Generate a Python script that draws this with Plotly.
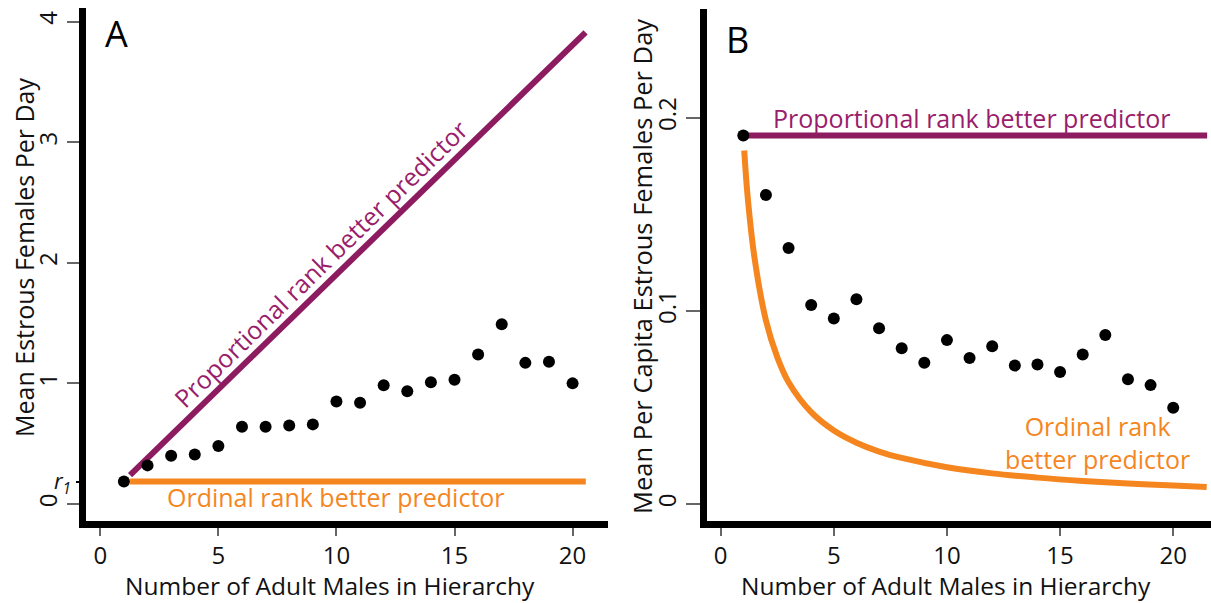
import plotly.graph_objects as go

# ---------------- data ----------------
n_males = list(range(1, 21))
mean_estrous = [0.186, 0.32, 0.40, 0.41, 0.48, 0.64, 0.64, 0.65, 0.66, 0.85,
                0.84, 0.985, 0.935, 1.01, 1.03, 1.24, 1.49, 1.17, 1.18, 1.00]
per_capita = [0.1907, 0.160, 0.1325, 0.103, 0.096, 0.106, 0.091, 0.0806, 0.0731, 0.0848,
              0.0756, 0.0816, 0.0716, 0.0722, 0.0683, 0.0773, 0.0874, 0.0645, 0.0615, 0.0498]

# model lines (panel A)
propA_x = [1.26, 20.55]
propA_y = [0.24, 3.91]
ordA_x = [1.26, 20.56]
ordA_y = [0.186, 0.186]

# model lines (panel B)
propB_x = [1.2, 21.5]
propB_y = [0.1907, 0.1907]
ordB_x = [1.04, 1.2, 1.5, 2, 2.5, 3, 4, 5, 6, 7, 8, 10, 12, 14, 16, 18, 20, 21.48]
ordB_y = [0.183, 0.158, 0.127, 0.095, 0.076, 0.063, 0.0475, 0.038, 0.0317, 0.0271,
          0.0238, 0.019, 0.0158, 0.0136, 0.0119, 0.0106, 0.0095, 0.0088]

r1_value = 0.186
xticks = [0, 5, 10, 15, 20]
yticksA = [0, 1, 2, 3, 4]
yticksB = [0, 0.1, 0.2]
yticktextB = ["0", "0.1", "0.2"]

PURPLE = "#8c1b60"
PURPLE_TXT = "#9a1d6c"
ORANGE = "#f5861f"
FONT = "Open Sans"

W, H = 1211, 603

fig = go.Figure()

# Panel A
fig.add_trace(go.Scatter(x=propA_x, y=propA_y, mode="lines",
                         line=dict(color=PURPLE, width=6), xaxis="x", yaxis="y",
                         hoverinfo="skip"))
fig.add_trace(go.Scatter(x=ordA_x, y=ordA_y, mode="lines",
                         line=dict(color=ORANGE, width=6), xaxis="x", yaxis="y",
                         hoverinfo="skip"))
fig.add_trace(go.Scatter(x=n_males, y=mean_estrous, mode="markers",
                         marker=dict(color="black", size=12), xaxis="x", yaxis="y"))
# helper trace for r1 tick axis
fig.add_trace(go.Scatter(x=[None], y=[None], xaxis="x", yaxis="y3", showlegend=False))

# Panel B
fig.add_trace(go.Scatter(x=propB_x, y=propB_y, mode="lines",
                         line=dict(color=PURPLE, width=6), xaxis="x2", yaxis="y2",
                         hoverinfo="skip"))
fig.add_trace(go.Scatter(x=ordB_x, y=ordB_y, mode="lines", line_shape="spline",
                         line=dict(color=ORANGE, width=6), xaxis="x2", yaxis="y2",
                         hoverinfo="skip"))
fig.add_trace(go.Scatter(x=n_males, y=per_capita, mode="markers",
                         marker=dict(color="black", size=12), xaxis="x2", yaxis="y2"))

axis_common = dict(showgrid=False, zeroline=False, showline=True, linecolor="black",
                   linewidth=7, ticks="outside", tickcolor="#666", tickwidth=1.5,
                   tickfont=dict(family=FONT, size=24, color="#111"))

fig.update_layout(
    width=W, height=H, margin=dict(l=0, r=0, t=0, b=0),
    paper_bgcolor="white", plot_bgcolor="white", showlegend=False,
    xaxis=dict(domain=[85.5 / W, 608 / W], range=[-0.627, 21.5], anchor="y",
               tickvals=xticks, ticklen=8, **axis_common),
    yaxis=dict(domain=[1 - 520.5 / H, 1 - 8.3 / H], range=[-0.137, 4.11], anchor="x",
               tickvals=yticksA, ticklen=12, tickangle=-90, **axis_common),
    yaxis3=dict(overlaying="y", range=[-0.137, 4.11], anchor="x", side="left",
                showgrid=False, zeroline=False, showline=False, ticks="outside",
                ticklen=9, tickwidth=2, tickcolor="black", tickvals=[r1_value],
                ticktext=["<i>r<sub>1</sub></i>"],
                tickfont=dict(family=FONT, size=22, color="#111")),
    xaxis2=dict(domain=[706.5 / W, 1.0], range=[-0.627, 21.67], anchor="y2",
                tickvals=xticks, ticklen=8, **axis_common),
    yaxis2=dict(domain=[1 - 520.5 / H, 1 - 9.3 / H], range=[-0.0086, 0.2561], anchor="x2",
                tickvals=yticksB, ticktext=yticktextB, ticklen=14, tickangle=-90,
                **axis_common),
)

ann = []
C = dict(xanchor="center", yanchor="middle", showarrow=False)
# panel letters
ann.append(dict(text="A", x=116.5 / W, y=1 - 34 / H, xref="paper", yref="paper",
                font=dict(family=FONT, size=36, color="black"), **C))
ann.append(dict(text="B", x=737 / W, y=1 - 39 / H, xref="paper", yref="paper",
                font=dict(family=FONT, size=36, color="black"), **C))
# axis titles
title_font = dict(family=FONT, size=24.5, color="#111")
ann.append(dict(text="Number of Adult Males in Hierarchy", x=330 / W, y=0,
                xref="paper", yref="paper", font=title_font, xanchor="center",
                yanchor="bottom", borderpad=0, showarrow=False))
ann.append(dict(text="Number of Adult Males in Hierarchy", x=946 / W, y=0,
                xref="paper", yref="paper", font=title_font, xanchor="center",
                yanchor="bottom", borderpad=0, showarrow=False))
ann.append(dict(text="Mean Estrous Females Per Day", x=24 / W, y=1 - 257 / H,
                xref="paper", yref="paper", textangle=-90,
                font=dict(family=FONT, size=25, color="#111"), **C))
ann.append(dict(text="Mean Per Capita Estrous Females Per Day", x=642 / W, y=1 - 267 / H,
                xref="paper", yref="paper", textangle=-90,
                font=dict(family=FONT, size=25.5, color="#111"), **C))
# in-panel labels
lab_font_p = dict(family=FONT, size=25, color=PURPLE_TXT)
lab_font_o = dict(family=FONT, size=25, color=ORANGE)
ann.append(dict(text="Proportional rank better predictor", x=9.31, y=1.99, xref="x", yref="y",
                textangle=-44.3, font=lab_font_p, **C))
ann.append(dict(text="Ordinal rank better predictor", x=9.96, y=0.06, xref="x", yref="y",
                font=lab_font_o, **C))
ann.append(dict(text="Proportional rank better predictor", x=11.08, y=0.1998, xref="x2",
                yref="y2", font=lab_font_p, **C))
ann.append(dict(text="Ordinal rank<br>better predictor", x=16.67, y=0.0316, xref="x2",
                yref="y2", align="center", font=lab_font_o, **C))
fig.update_layout(annotations=ann)

fig.write_html("out.html")
